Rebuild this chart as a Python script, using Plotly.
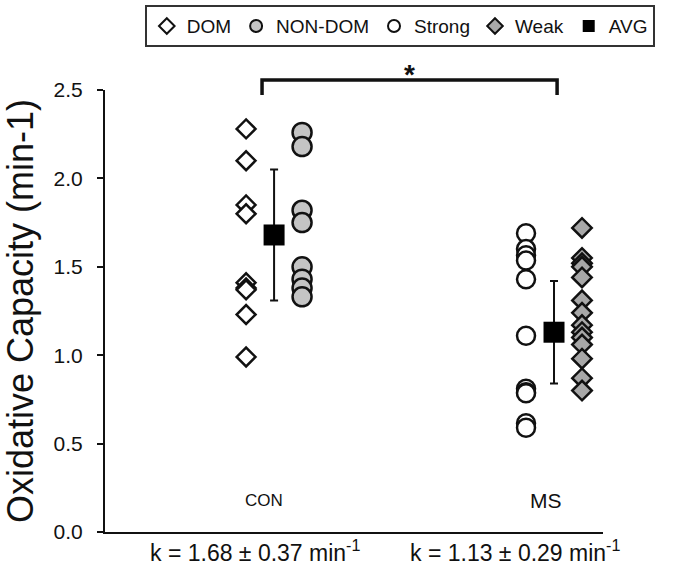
import plotly.graph_objects as go

# ---- data ----
groups = ["CON", "MS"]
group_pos = [1, 2]
dom = [2.28, 2.10, 1.85, 1.80, 1.41, 1.38, 1.37, 1.23, 0.99]
non_dom = [2.26, 2.18, 1.82, 1.75, 1.50, 1.43, 1.38, 1.33]
strong = [1.69, 1.60, 1.565, 1.535, 1.43, 1.11, 0.81, 0.79, 0.785, 0.615, 0.59]
weak = [1.72, 1.55, 1.52, 1.50, 1.44, 1.31, 1.24, 1.17, 1.13, 1.10, 1.06, 0.98, 0.87, 0.80]
avg = [1.68, 1.13]
sd = [0.37, 0.29]
k_labels = ["k = 1.68 ± 0.37 min<sup>-1</sup>", "k = 1.13 ± 0.29 min<sup>-1</sup>"]
y_ticks = [0.0, 0.5, 1.0, 1.5, 2.0, 2.5]

OFF = 0.1
FONT = "Liberation Sans, Arial, sans-serif"
INK = "#111111"

fig = go.Figure()

fig.add_trace(go.Scatter(
    x=[group_pos[0] - OFF] * len(dom), y=dom, mode="markers", name="DOM",
    marker=dict(symbol="diamond", size=14.5, color="white",
                line=dict(color=INK, width=2.5))))
fig.add_trace(go.Scatter(
    x=[group_pos[0] + OFF] * len(non_dom), y=non_dom, mode="markers", name="NON-DOM",
    marker=dict(symbol="circle", size=19, color="#c4c4c4",
                line=dict(color=INK, width=2.5))))
fig.add_trace(go.Scatter(
    x=[group_pos[1] - OFF] * len(strong), y=strong, mode="markers", name="Strong",
    marker=dict(symbol="circle", size=18, color="white",
                line=dict(color=INK, width=2.5))))
fig.add_trace(go.Scatter(
    x=[group_pos[1] + OFF] * len(weak), y=weak, mode="markers", name="Weak",
    marker=dict(symbol="diamond", size=15, color="#a8a8a8",
                line=dict(color=INK, width=2.5))))
fig.add_trace(go.Scatter(
    x=group_pos, y=avg, mode="markers", name="AVG",
    error_y=dict(type="data", array=sd, visible=True, color=INK, thickness=2, width=4),
    marker=dict(symbol="square", size=21, color="black",
                line=dict(color="black", width=0))))

# group labels inside plot
fig.add_annotation(x=group_pos[0] - 0.035, y=0.18, text=groups[0], showarrow=False,
                   font=dict(family=FONT, size=17, color=INK))
fig.add_annotation(x=group_pos[1] - 0.03, y=0.18, text=groups[1], showarrow=False,
                   font=dict(family=FONT, size=21, color=INK))

# k labels below axis
fig.add_annotation(x=group_pos[0] - 0.068, y=-0.055, yref="paper", yshift=-12,
                   text=k_labels[0], showarrow=False,
                   font=dict(family=FONT, size=23, color=INK))
fig.add_annotation(x=group_pos[1] - 0.14, y=-0.055, yref="paper", yshift=-12,
                   text=k_labels[1], showarrow=False,
                   font=dict(family=FONT, size=23, color=INK))

# significance bracket
x_l = group_pos[0] - 0.043
x_r = group_pos[1] + 0.011
fig.add_shape(type="path", xref="x", yref="paper",
              path=f"M {x_l},0.9887 L {x_l},1.0226 L {x_r},1.0226 L {x_r},0.9887",
              line=dict(color=INK, width=3.5))
fig.add_annotation(x=(x_l + x_r) / 2, y=1.075, xref="x", yref="paper", text="<b>*</b>",
                   showarrow=False, font=dict(family=FONT, size=28, color=INK))

fig.update_layout(
    width=688, height=582,
    margin=dict(l=105, r=85, t=90, b=50, autoexpand=False),
    paper_bgcolor="white", plot_bgcolor="white",
    font=dict(family=FONT, color=INK),
    showlegend=True,
    legend=dict(orientation="h", xref="paper", yref="paper",
                x=1.104, xanchor="right", y=1.192, yanchor="top",
                bordercolor="#333333", borderwidth=2,
                font=dict(family=FONT, size=19, color=INK),
                itemsizing="constant", tracegroupgap=0),
    xaxis=dict(range=[0.396, 2.175], showgrid=False, zeroline=False,
               showticklabels=False, ticks="", showline=True,
               linecolor=INK, linewidth=2),
    yaxis=dict(range=[0, 2.5], tickvals=y_ticks, tickformat=".1f",
               showgrid=False, zeroline=False, showline=True,
               linecolor=INK, linewidth=2, ticks="outside", ticklen=6,
               tickwidth=2, tickcolor=INK, ticklabelstandoff=10,
               tickfont=dict(family=FONT, size=21, color=INK),
               title=dict(text="Oxidative Capacity (min-1)", standoff=10,
                          font=dict(family=FONT, size=36, color=INK))),
)

fig.write_html("out.html", config={"displayModeBar": False},
               post_script="document.body.style.margin='0';")
